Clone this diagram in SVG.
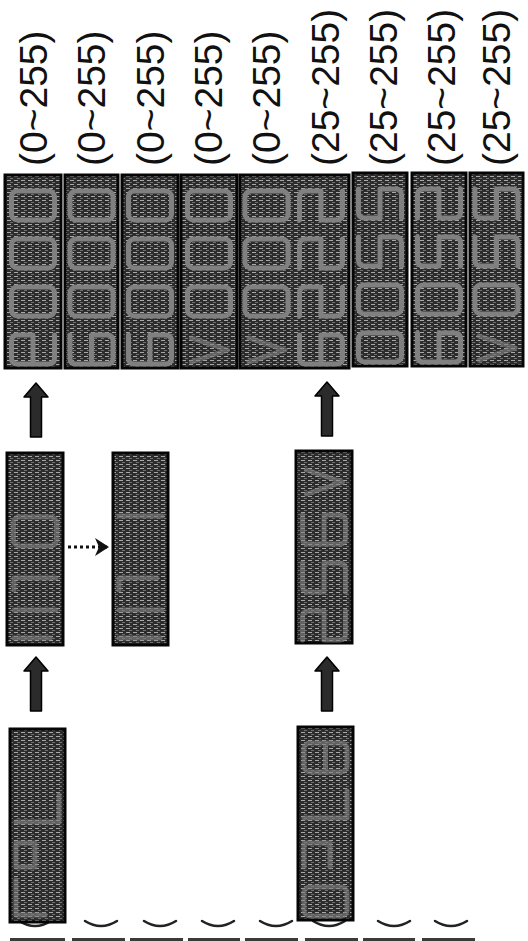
<svg xmlns="http://www.w3.org/2000/svg" xmlns:xlink="http://www.w3.org/1999/xlink" width="528" height="941" viewBox="0 0 528 941">
<style>
.lbl{font-family:"Liberation Sans",Arial,sans-serif;font-size:39px;fill:#111}
.pan{fill:url(#tex);stroke:#050505;stroke-width:3}
.seg{fill:none;stroke:#808080;stroke-width:5;stroke-linecap:round;stroke-linejoin:round}
.faint{opacity:.65}
.arr{fill:#2b2b2b;stroke:#000;stroke-width:1.5;stroke-linejoin:round}
.arc{fill:none;stroke:#222;stroke-width:2.5;stroke-linecap:round}
.bar{fill:#3a3a3a}
</style>
<defs>
<pattern id="tex" width="7" height="4" patternUnits="userSpaceOnUse">
<rect width="7" height="4" fill="#2c2c2c"/>
<rect x="0" y="0" width="4" height="1" fill="#a8a8a8"/>
<rect x="3" y="2" width="3" height="1" fill="#707070"/>
</pattern>
<marker id="head" viewBox="0 0 14 18" refX="13" refY="9" markerWidth="14" markerHeight="18" markerUnits="userSpaceOnUse" orient="auto">
<path d="M14,9 L0,0 L4,9 L0,18 Z" fill="#111"/>
</marker>
<g id="d0" class="seg"><rect x="0" y="0" width="43" height="29" rx="6"/></g>
<g id="d8" class="seg"><rect x="0" y="0" width="43" height="29" rx="6"/><path d="M21.5,0 V29"/></g>
<g id="d6" class="seg"><path d="M0,0 V23 Q0,29 6,29 H37 Q43,29 43,23 V6 Q43,0 37,0 H21.5 V29"/></g>
<g id="d2" class="seg"><path d="M0,29 V6 Q0,0 6,0 H21.5 V29 H37 Q43,29 43,23 V0"/></g>
<g id="d5" class="seg"><path d="M0,0 V23 Q0,29 6,29 H21.5 V0 H37 Q43,0 43,6 V29"/></g>
<g id="dX" class="seg"><path d="M21.5,0 H6 Q0,0 0,6 V23 Q0,29 6,29 H37 Q43,29 43,23 V0 M21.5,0 V29"/></g>
<g id="dV" class="seg faint"><path d="M4,3 L40,15 L4,27"/></g>
</defs>

<g id="labels">
<text class="lbl" transform="translate(47,166) rotate(-90)">(0~255)</text>
<text class="lbl" transform="translate(105,166) rotate(-90)">(0~255)</text>
<text class="lbl" transform="translate(164,166) rotate(-90)">(0~255)</text>
<text class="lbl" transform="translate(222,166) rotate(-90)">(0~255)</text>
<text class="lbl" transform="translate(280,166) rotate(-90)">(0~255)</text>
<text class="lbl" transform="translate(339,166) rotate(-90)">(25~255)</text>
<text class="lbl" transform="translate(397,166) rotate(-90)">(25~255)</text>
<text class="lbl" transform="translate(455,166) rotate(-90)">(25~255)</text>
<text class="lbl" transform="translate(510,166) rotate(-90)">(25~255)</text>
</g>

<g id="fragments">
<path class="arc" d="M19,921 Q35,931 51,921"/>
<path class="arc" d="M85,921 Q101,931 117,921"/>
<path class="arc" d="M144,921 Q160,931 176,921"/>
<path class="arc" d="M202,921 Q218,931 234,921"/>
<path class="arc" d="M260,921 Q276,931 292,921"/>
<path class="arc" d="M313,921 Q329,931 345,921"/>
<path class="arc" d="M378,921 Q394,931 410,921"/>
<path class="arc" d="M435,921 Q451,931 467,921"/>
<rect class="bar" x="10" y="938" width="55" height="3"/>
<rect class="bar" x="72" y="938" width="53" height="3"/>
<rect class="bar" x="130" y="938" width="53" height="3"/>
<rect class="bar" x="188" y="938" width="52" height="3"/>
<rect class="bar" x="245" y="938" width="53" height="3"/>
<rect class="bar" x="305" y="938" width="53" height="3"/>
<rect class="bar" x="363" y="938" width="52" height="3"/>
<rect class="bar" x="422" y="938" width="53" height="3"/>
</g>

<g id="display1">
<rect class="pan" x="5" y="175" width="56" height="193"/>
<use href="#d0" x="11.5" y="191"/><use href="#d0" x="11.5" y="239"/><use href="#d0" x="11.5" y="287"/><use href="#dX" x="11.5" y="335"/>
</g>
<g id="display2">
<rect class="pan" x="65" y="175" width="53" height="193"/>
<use href="#d0" x="70" y="191"/><use href="#d0" x="70" y="239"/><use href="#d0" x="70" y="287"/><use href="#d6" x="70" y="335"/>
</g>
<g id="display3">
<rect class="pan" x="122" y="175" width="56" height="193"/>
<use href="#d0" x="128.5" y="191"/><use href="#d0" x="128.5" y="239"/><use href="#d0" x="128.5" y="287"/><use href="#d6" x="128.5" y="335"/>
</g>
<g id="display4">
<rect class="pan" x="181" y="175" width="56" height="193"/>
<use href="#d0" x="187.5" y="191"/><use href="#d0" x="187.5" y="239"/><use href="#d0" x="187.5" y="287"/><use href="#dV" x="187.5" y="335"/>
</g>
<g id="display5">
<rect class="pan" x="240" y="175" width="109" height="193"/>
<use href="#d0" x="245" y="191"/><use href="#d0" x="245" y="239"/><use href="#d0" x="245" y="287"/><use href="#dV" x="245" y="335"/>
<use href="#d2" x="299.5" y="191"/><use href="#d2" x="299.5" y="239"/><use href="#d2" x="299.5" y="287"/><use href="#d6" x="299.5" y="335"/>
</g>
<g id="display6">
<rect class="pan" x="353" y="173" width="54" height="193"/>
<use href="#d5" x="358.5" y="189"/><use href="#d5" x="358.5" y="237"/><use href="#d0" x="358.5" y="285"/><use href="#d0" x="358.5" y="333"/>
</g>
<g id="display7">
<rect class="pan" x="412" y="173" width="54" height="193"/>
<use href="#d2" x="417.5" y="189"/><use href="#d5" x="417.5" y="237"/><use href="#d0" x="417.5" y="285"/><use href="#d6" x="417.5" y="333"/>
</g>
<g id="display8">
<rect class="pan" x="470" y="173" width="53" height="193"/>
<use href="#d5" x="475" y="189"/><use href="#d5" x="475" y="237"/><use href="#d0" x="475" y="285"/><use href="#dV" x="475" y="333"/>
</g>

<g id="panelA">
<rect class="pan" x="7" y="453" width="56" height="192"/>
<use href="#d0" x="13.5" y="517" class="faint"/>
<g class="seg faint"><path d="M14,590 V578 H56"/><path d="M14,610 H56"/><path d="M14,638 H50"/></g>
</g>
<g id="panelB">
<rect class="pan" x="113" y="453" width="55" height="192"/>
<g class="seg faint"><path d="M119,516 H162"/><path d="M119,590 V578 H157"/><path d="M119,610 H162"/><path d="M119,638 H160"/></g>
</g>
<g id="panelC">
<rect class="pan" x="296" y="451" width="56" height="192"/>
<use href="#dV" x="302.5" y="467"/><use href="#d6" x="302.5" y="515" class="faint"/><use href="#d5" x="302.5" y="563" class="faint"/><use href="#d2" x="302.5" y="611" class="faint"/>
</g>
<g id="panelD">
<rect class="pan" x="10" y="729" width="55" height="193"/>
<g class="seg faint"><path d="M59,795 V822 H16"/><path d="M16,843 H35 V867 H16 Z"/><path d="M16,880 V915 H45"/></g>
</g>
<g id="panelE">
<rect class="pan" x="298" y="727" width="55" height="193"/>
<use href="#d8" x="304" y="743" class="faint"/>
<g class="seg faint"><path d="M347,791 V818 H304"/><path d="M304,867 V843 H330 V867"/></g>
<use href="#d0" x="304" y="887" class="faint"/>
</g>

<g id="connectors">
<path class="arr" d="M36,383 L48,397 L41.5,397 L41.5,437 L30.5,437 L30.5,397 L24,397 Z"/>
<path class="arr" d="M327,382 L339,396 L332.5,396 L332.5,436 L321.5,436 L321.5,396 L315,396 Z"/>
<path class="arr" d="M36,657 L48,671 L41.5,671 L41.5,711 L30.5,711 L30.5,671 L24,671 Z"/>
<path class="arr" d="M327,657 L339,671 L332.5,671 L332.5,711 L321.5,711 L321.5,671 L315,671 Z"/>
<line x1="68" y1="547" x2="108" y2="547" stroke="#111" stroke-width="3" stroke-dasharray="3 3" marker-end="url(#head)"/>
</g>
</svg>
